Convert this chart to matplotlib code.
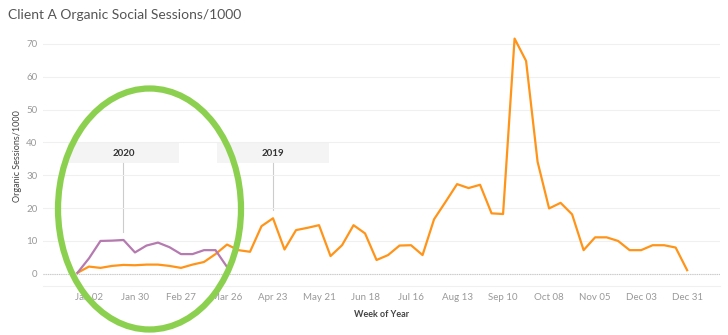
import numpy as np
import pandas as pd
import matplotlib
matplotlib.use("Agg")
import matplotlib.pyplot as plt
import matplotlib.dates as mdates
from matplotlib.patches import Ellipse, Rectangle

plt.rcParams['font.family'] = ['Lato', 'DejaVu Sans']

# weekly points, first week starts Dec 26 (week before Jan 02)
weeks = pd.date_range('2019-12-26', periods=54, freq='7D')

sessions_2019 = [0.3, 2.2, 1.8, 2.4, 2.7, 2.6, 2.8, 2.8, 2.4, 1.8, 2.8, 3.6, 6.0, 8.9,
                 7.2, 6.7, 14.5, 16.9, 7.4, 13.3, 14.0, 14.8, 5.4, 8.7, 14.8, 12.3, 4.2,
                 5.7, 8.6, 8.7, 5.7, 16.6, 21.9, 27.3, 26.1, 27.1, 18.4, 18.2, 71.6, 64.8,
                 34.1, 19.9, 21.6, 18.1, 7.2, 11.1, 11.1, 10.0, 7.2, 7.2, 8.7, 8.7, 8.0, 1.1]
sessions_2020 = [0.3, 4.7, 10.0, 10.1, 10.3, 6.5, 8.6, 9.5, 8.1, 6.0, 6.0, 7.2, 7.2, 2.1]

tick_dates = pd.date_range('2020-01-02', '2020-12-31', freq='28D')

orange = '#ff9419'
purple = '#b57ab0'

fig = plt.figure(figsize=(7.28, 3.35), dpi=100)
ax = fig.add_axes([0.059, 0.146, 0.93, 0.779])

ax.plot(weeks, sessions_2019, color=orange, lw=1.6, zorder=3)
ax.plot(weeks[:len(sessions_2020)], sessions_2020, color=purple, lw=1.6, zorder=4)

ax.set_ylim(-3.74, 75.7)
ax.set_xlim(mdates.date2num(pd.Timestamp('2019-12-05')), mdates.date2num(pd.Timestamp('2021-01-20')))
ax.set_yticks(range(0, 71, 10))
ax.set_xticks(tick_dates)
ax.xaxis.set_major_formatter(mdates.DateFormatter('%b %d'))

ax.grid(axis='y', color='#f0f0f0', lw=0.8)
ax.axhline(0, color='#c8c8c8', lw=0.8, ls=(0, (1, 1)), zorder=2)
for s in ['top', 'right', 'left']:
    ax.spines[s].set_visible(False)
ax.spines['bottom'].set_color('#f0f0f0')
ax.tick_params(length=0, labelsize=7, labelcolor='#999999', pad=5)
ax.tick_params(axis='y', pad=4)

ax.set_ylabel('Organic Sessions/1000', fontsize=6.5, color='#444444', labelpad=3)
ax.set_xlabel('Week of Year', fontsize=6.5, color='#444444', fontweight='bold', labelpad=6)

fig.text(0.011, 0.955, 'Client A Organic Social Sessions/1000', fontsize=10, color='#555555', va='center')

# annotation boxes
labels = [('2020', weeks[4], 10.3, 12.7), ('2019', weeks[17], 16.9, 19.4)]
for txt, d, val, line_end in labels:
    x = mdates.date2num(d)
    ax.add_patch(Rectangle((x - 34, 33.7), 68, 6.1, facecolor='#f4f4f4', edgecolor='none', zorder=1))
    ax.text(x, 36.75, txt, ha='center', va='center', fontsize=7, fontweight='bold', color='#333333', zorder=2)
    ax.plot([x, x], [33.7, line_end], color='#cccccc', lw=0.8, zorder=1)

fig.add_artist(Ellipse((149.5 / 728, 1 - 209 / 335), 183 / 728, 241 / 335,
                       transform=fig.transFigure, fill=False, edgecolor='#8cd04f', lw=4.5, zorder=10))

fig.savefig('out.png', dpi=100)
